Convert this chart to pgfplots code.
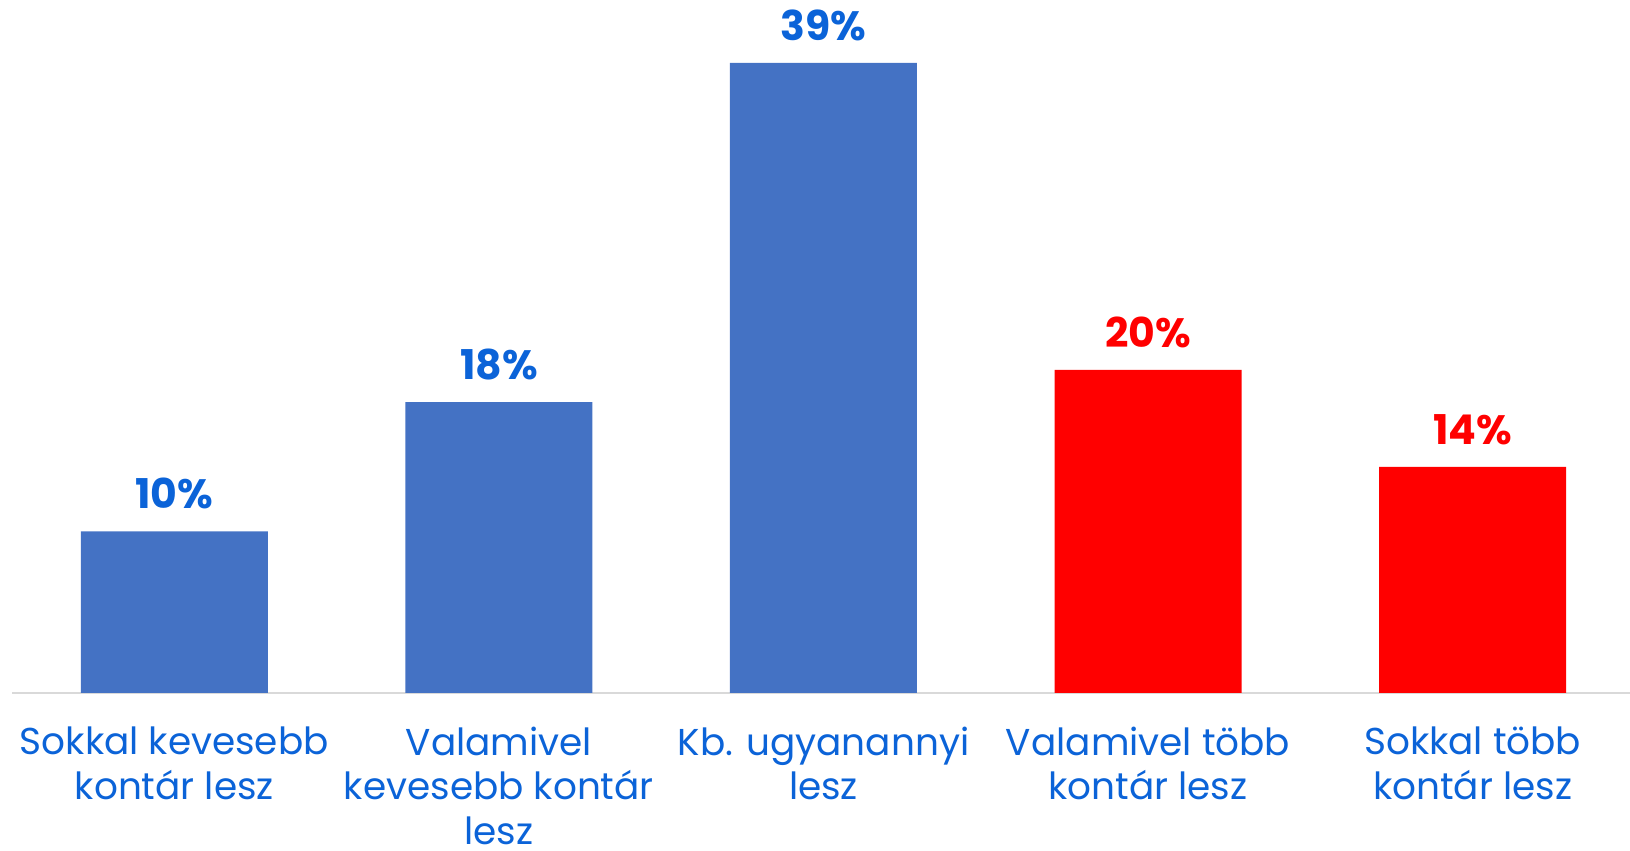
\documentclass[border=0pt]{standalone}
\usepackage{pgfplots}
\pgfplotsset{compat=1.18}
\usepackage{fontspec}
\setmainfont{Poppins}
\definecolor{barblue}{HTML}{4472C4}
\definecolor{txtblue}{HTML}{0B63D8}
\definecolor{barred}{HTML}{FF0000}
\begin{document}
\begin{tikzpicture}
\begin{axis}[
  scale only axis, width=811.5pt, height=346.5pt,
  xmin=-0.5, xmax=4.5, ymin=0, ymax=42.9,
  hide y axis,
  axis x line=bottom,
  x axis line style={-, draw=black!15, line width=1pt},
  xtick={0,1,2,3,4},
  xticklabels={{Sokkal kevesebb\\kontár lesz},{Valamivel\\kevesebb kontár\\lesz},{Kb. ugyanannyi\\lesz},{Valamivel több\\kontár lesz},{Sokkal több\\kontár lesz}},
  major tick length=0pt,
  xticklabel style={font=\fontsize{18.7}{22.2}\selectfont, text=txtblue, align=center, anchor=north, inner sep=0pt, yshift=-16.8pt},
  ybar, bar width=93.5pt, bar shift=0pt,
  nodes near coords={\pgfmathprintnumber[assume math mode=true]{\pgfplotspointmeta}\%},
  every node near coord/.append style={font=\bfseries\fontsize{20.5}{22}\selectfont, yshift=7.5pt},
  clip=false,
]
\addplot[fill=barblue, draw=none, every node near coord/.append style={text=txtblue}] coordinates {(0,10) (1,18) (2,39)};
\addplot[fill=barred, draw=none, every node near coord/.append style={text=barred}] coordinates {(3,20) (4,14)};
\end{axis}
\pgfresetboundingbox
\useasboundingbox (-6pt,-79pt) rectangle (809pt,346.5pt);
\end{tikzpicture}
\end{document}
